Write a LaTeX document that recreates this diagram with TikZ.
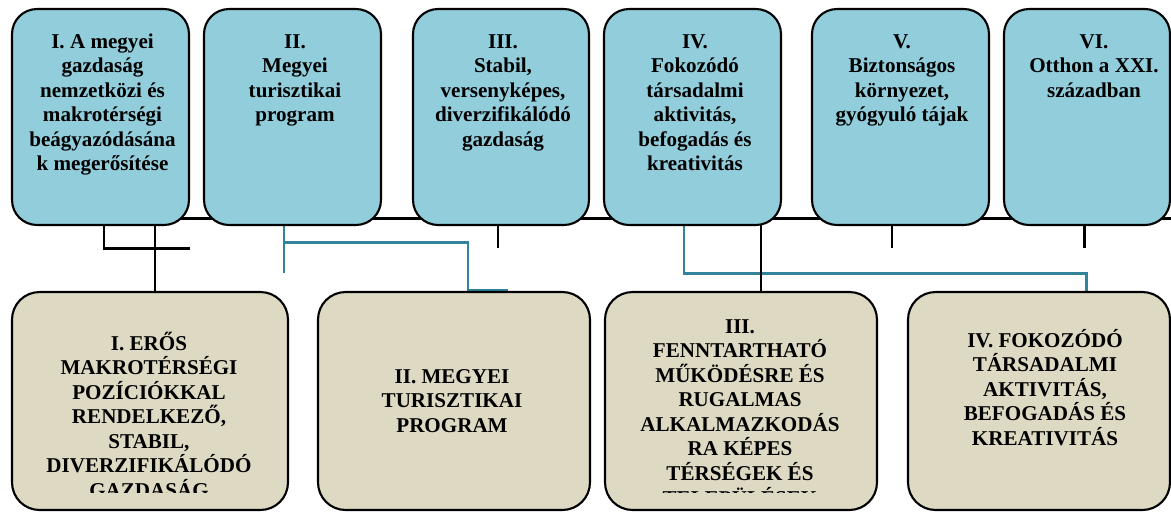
\documentclass[tikz,border=0pt]{standalone}
\usepackage{fontspec}
\setmainfont{Liberation Serif}
\usetikzlibrary{backgrounds}
\definecolor{celkek}{HTML}{92CDDC}
\definecolor{progbezs}{HTML}{DDD9C3}
\definecolor{vonalkek}{HTML}{31849B}

\newcommand{\setup}{
    \coordinate (busL) at (155,218);
    \coordinate (busR) at (1171,218);

    \coordinate (k1) at (104,248);
    \coordinate (k2) at (190,248);
    \coordinate (s3) at (498,248);
    \coordinate (s5) at (892,248);
    \coordinate (s6) at (1084,248);
    \coordinate (v4) at (761,218);

    \coordinate (e1) at (284,273);
    \coordinate (e2) at (284,242);
    \coordinate (e3) at (468,242);
    \coordinate (e4) at (468,290);
    \coordinate (e5) at (508,290);

    \coordinate (f1) at (684,273);
    \coordinate (f2) at (1086,273);
}
\newcommand{\sorok}[1]{\parbox[t]{6cm}{\centering #1}}

\tikzstyle{cel}=[draw,line width=1.2pt,fill=celkek,rounded corners=0.5cm,minimum height=4.32cm]
\tikzstyle{prog}=[draw,line width=1.2pt,fill=progbezs,rounded corners=0.55cm,minimum height=4.36cm]
\tikzstyle{felirat}=[anchor=base,inner sep=0pt,font=\fontsize{12}{14}\selectfont\bfseries]

\begin{document}
\begin{tikzpicture}[x=0.02cm,y=-0.02cm]
          \useasboundingbox (0,0) rectangle (1171,512);
          \setup

          % upper row
          \node[cel,minimum width=3.54cm] (c1) at (100.5,117) {};
          \node[cel,minimum width=3.54cm] (c2) at (292.5,117) {};
          \node[cel,minimum width=3.52cm] (c3) at (501,117) {};
          \node[cel,minimum width=3.54cm] (c4) at (692.5,117) {};
          \node[cel,minimum width=3.54cm] (c5) at (900.5,117) {};
          \node[cel,minimum width=3.32cm] (c6) at (1087,117) {};

          \node[felirat] (c1t) at (102.5,48) {\sorok{I. A megyei\\gazdaság\\nemzetközi és\\makrotérségi\\beágyazódásána\\k megerősítése}};
          \node[felirat] (c2t) at (295,48) {\sorok{II.\\Megyei\\turisztikai\\program}};
          \node[felirat] (c3t) at (503,48) {\sorok{III.\\Stabil,\\versenyképes,\\diverzifikálódó\\gazdaság}};
          \node[felirat] (c4t) at (695,48) {\sorok{IV.\\Fokozódó\\társadalmi\\aktivitás,\\befogadás és\\kreativitás}};
          \node[felirat] (c5t) at (902,48) {\sorok{V.\\Biztonságos\\környezet,\\gyógyuló tájak}};
          \node[felirat] (c6t) at (1094,48) {\sorok{VI.\\Otthon a XXI.\\században}};

          % lower row
          \node[prog,minimum width=5.52cm] (p1) at (150,401) {};
          \node[prog,minimum width=5.44cm] (p2) at (454,401) {};
          \node[prog,minimum width=5.44cm] (p3) at (741,401) {};
          \node[prog,minimum width=5.24cm] (p4) at (1039,401) {};

          \begin{scope}
            \clip (0,292) rectangle (1171,492); % text cut off at the bottom
            \node[felirat] (p1t) at (149,350) {\sorok{I. ERŐS\\MAKROTÉRSÉGI\\POZÍCIÓKKAL\\RENDELKEZŐ,\\STABIL,\\DIVERZIFIKÁLÓDÓ\\GAZDASÁG}};
            \node[felirat] (p2t) at (452,383) {\sorok{II. MEGYEI\\TURISZTIKAI\\PROGRAM}};
            \node[felirat] (p3t) at (740,333) {\sorok{III.\\FENNTARTHATÓ\\MŰKÖDÉSRE ÉS\\RUGALMAS\\ALKALMAZKODÁS\\RA KÉPES\\TÉRSÉGEK ÉS\\TELEPÜLÉSEK}};
            \node[felirat] (p4t) at (1045,347) {\sorok{IV. FOKOZÓDÓ\\TÁRSADALMI\\AKTIVITÁS,\\BEFOGADÁS ÉS\\KREATIVITÁS}};
          \end{scope}

          \begin{scope}[on background layer]
            \draw[line width=1.7pt,vonalkek] (e1 |- c2.south) -- (e1);
            \draw[line width=1.7pt,vonalkek] (e2) -- (e3) -- (e4) -- (e5);
            \draw[line width=1.7pt,vonalkek] (f1 |- c4.south) -- (f1) -- (f2) -- (f2 |- p4.north);

            \draw[line width=1.7pt] (busL) -- (busR);
            \draw[line width=1.7pt] (busL) -- (busL |- p1.north);
            \draw[line width=1.7pt] (k1 |- c1.south) -- (k1) -- (k2);
            \draw[line width=1.7pt] (s3 |- c3.south) -- (s3);
            \draw[line width=1.7pt] (v4) -- (v4 |- p3.north);
            \draw[line width=1.7pt] (s5 |- c5.south) -- (s5);
            \draw[line width=1.7pt] (s6 |- c6.south) -- (s6);
          \end{scope}
        \end{tikzpicture}
\end{document}
